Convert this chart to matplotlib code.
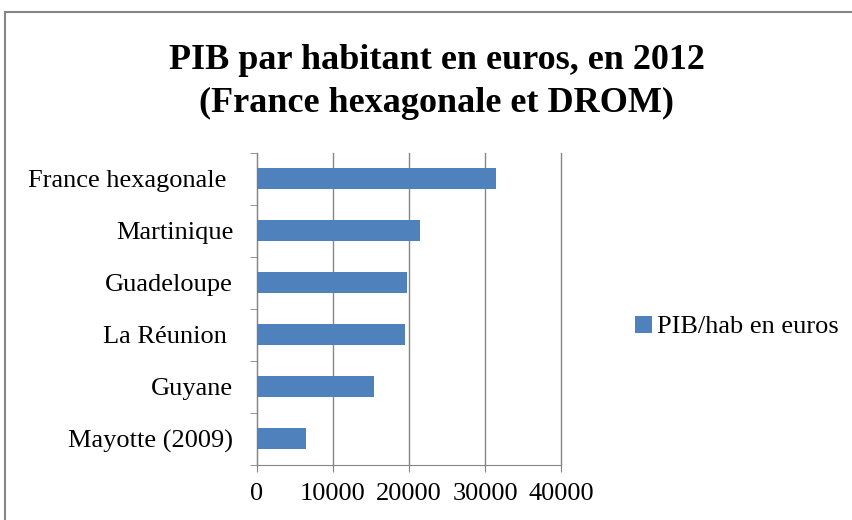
import numpy as np
import matplotlib.pyplot as plt
from matplotlib.patches import Rectangle

# data
regions = ["France hexagonale ", "Martinique", "Guadeloupe", "La Réunion ",
           "Guyane", "Mayotte (2009)"]
pib = [31400, 21500, 19800, 19450, 15400, 6500]
xticks = [0, 10000, 20000, 30000, 40000]

plt.rcParams['font.family'] = ['Liberation Serif', 'DejaVu Serif']

fig = plt.figure(figsize=(8.53, 5.20), dpi=100)
ax = fig.add_axes([0.301, 0.106, 0.357, 0.600])

# outer chart border (cut off on the right and bottom in the reference)
fig.patches.append(Rectangle((5 / 853, -0.1), 2, 1 - 12 / 520 + 0.1,
                             transform=fig.transFigure, fill=False,
                             edgecolor='#868686', linewidth=1.5))

y = np.arange(len(regions))[::-1]
ax.barh(y, pib, height=0.4, color='#4F81BD', label='PIB/hab en euros',
        zorder=3)

ax.set_xlim(0, 40000)
ax.set_ylim(-0.5, len(regions) - 0.5)
ax.set_xticks(xticks)
ax.set_xticklabels([str(v) for v in xticks], fontsize=19)
ax.set_yticks(y)
ax.set_yticklabels(regions, fontsize=19)
ax.tick_params(axis='y', length=0, pad=17)
ax.set_yticks(np.arange(-0.5, len(regions)), minor=True)
ax.tick_params(axis='y', which='minor', length=5, color='#868686')
ax.tick_params(axis='x', length=5, color='#868686', pad=8)

ax.grid(axis='x', color='#868686', linewidth=1, zorder=0)
for line in ax.get_xgridlines():
    line.set_clip_on(False)
for s in ['top', 'right']:
    ax.spines[s].set_visible(False)
for s in ['left', 'bottom']:
    ax.spines[s].set_color('#868686')

fig.text(0.512, 0.842, "PIB par habitant en euros, en 2012\n(France hexagonale et DROM)",
         ha='center', va='center', fontsize=26, fontweight='bold',
         linespacing=1.38)

fig.legend(loc='center left', bbox_to_anchor=(0.745, 0.371), frameon=False,
           fontsize=19, handlelength=0.62, handleheight=0.62, handletextpad=0.2,
           borderpad=0, borderaxespad=0)

fig.savefig('out.png', dpi=100)
